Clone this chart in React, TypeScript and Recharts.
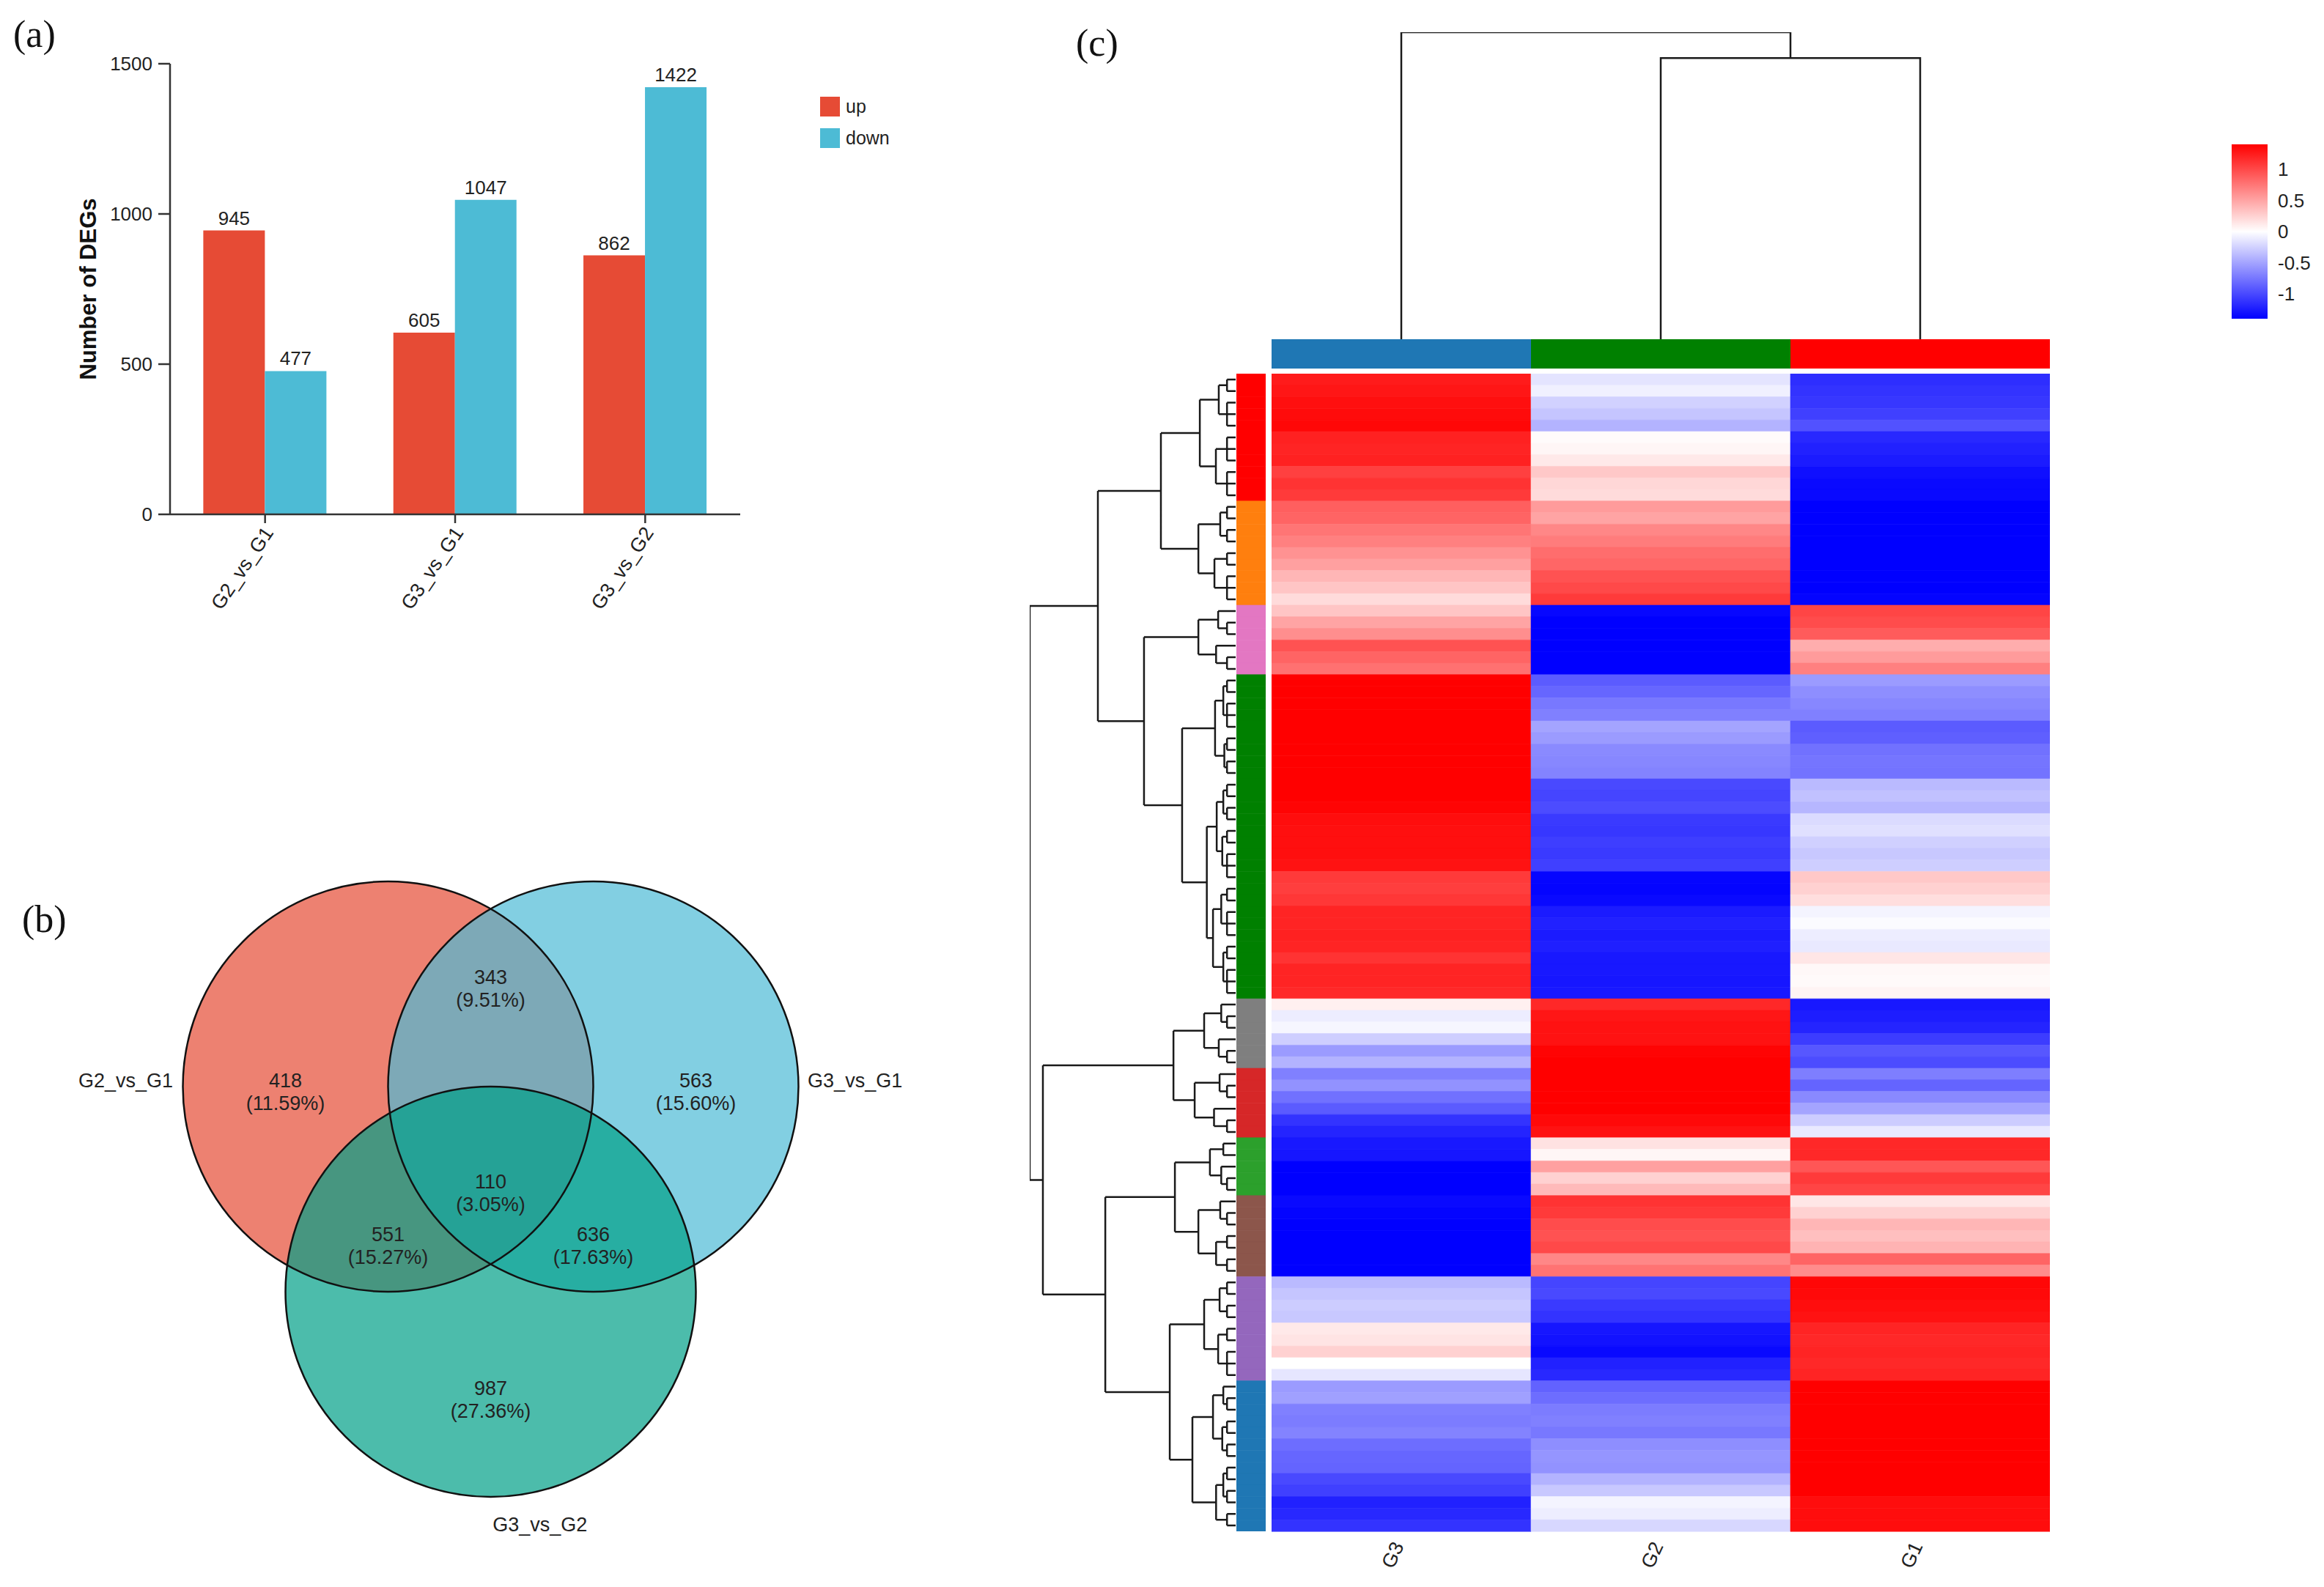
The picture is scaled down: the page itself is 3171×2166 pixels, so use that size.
import React from "react";
import {
  Bar,
  BarChart,
  Cell,
  Label,
  LabelList,
  Legend,
  Line,
  LineChart,
  Scatter,
  ScatterChart,
  XAxis,
  YAxis,
} from "recharts";

const FONT = '"Liberation Sans", Arial, sans-serif';
const SERIF = '"Liberation Serif", "Times New Roman", serif';

// ---- (a) DEG counts ----
const comparisons = ["G2_vs_G1", "G3_vs_G1", "G3_vs_G2"];
const upCounts = [945, 605, 862];
const downCounts = [477, 1047, 1422];
const degTicks = [0, 500, 1000, 1500];
const degSeries = ["up", "down"];

// ---- (b) Venn ----
const vennSets = ["G2_vs_G1", "G3_vs_G1", "G3_vs_G2"];
// order: only A, only B, only C, A&B, A&C, B&C, A&B&C
const regionCounts = [418, 563, 987, 343, 551, 636, 110];
const regionPercents = ["11.59%", "15.60%", "27.36%", "9.51%", "15.27%", "17.63%", "3.05%"];

// ---- (c) heatmap ----
const samples = ["G3", "G2", "G1"];
const sampleColors = ["#1F77B4", "#008000", "#FF0000"];
const clusterSizes = [11, 9, 6, 28, 6, 6, 5, 7, 9, 13];
const clusterColors = [
  "#FF0000", "#FF7F0E", "#E377C2", "#008000", "#7F7F7F",
  "#D62728", "#2CA02C", "#8C564B", "#9467BD", "#1F77B4",
];
const g3Values = [
  1.25, 1.28, 1.32, 1.34, 1.36, 1.22, 1.2, 1.22, 1.05, 1.12, 1.08,
  0.88, 0.85, 0.76, 0.7, 0.6, 0.52, 0.4, 0.32, 0.2,
  0.32, 0.5, 0.62, 0.95, 0.85, 0.78,
  1.4, 1.4, 1.4, 1.4, 1.4, 1.4, 1.4, 1.4, 1.4, 1.4, 1.4, 1.38, 1.33, 1.32,
  1.32, 1.32, 1.3, 1.08, 1.06, 1.1, 1.2, 1.2, 1.22, 1.2, 1.12, 1.2, 1.2, 1.18,
  0.08, -0.1, -0.05, -0.27, -0.55, -0.42,
  -0.7, -0.6, -0.78, -0.9, -1.12, -1.2,
  -1.27, -1.28, -1.4, -1.4, -1.4,
  -1.35, -1.38, -1.4, -1.4, -1.4, -1.4, -1.4,
  -0.38, -0.32, -0.28, -0.3, 0.12, 0.15, 0.25, 0, -0.14,
  -0.55, -0.52, -0.7, -0.72, -0.68, -0.8, -0.84, -0.85, -1, -1.05, -1.22, -1.18, -1.12,
];
const g2Values = [
  -0.15, -0.08, -0.25, -0.32, -0.42, 0.02, 0.05, 0.12, 0.3, 0.22, 0.2,
  0.55, 0.5, 0.66, 0.72, 0.8, 0.84, 0.95, 1, 1.08,
  -1.36, -1.4, -1.4, -1.4, -1.4, -1.4,
  -0.9, -0.84, -0.74, -0.7, -0.5, -0.55, -0.64, -0.66, -0.68, -1, -1.02, -0.98, -1.08, -1.1,
  -1.06, -1.08, -1.05, -1.37, -1.38, -1.35, -1.25, -1.22, -1.25, -1.23, -1.27, -1.27, -1.28, -1.27,
  1.18, 1.28, 1.3, 1.3, 1.38, 1.4,
  1.4, 1.4, 1.4, 1.4, 1.35, 1.3,
  0.16, 0.05, 0.52, 0.25, 0.38,
  1.12, 1.08, 0.98, 0.95, 1, 0.66, 0.77,
  -1.02, -1, -1.08, -1.12, -1.28, -1.3, -1.35, -1.22, -1.18,
  -0.86, -0.8, -0.72, -0.7, -0.74, -0.62, -0.58, -0.6, -0.42, -0.3, -0.06, -0.1, -0.22,
];
const g1Values = [
  -1.15, -1.12, -1.1, -1.05, -0.95, -1.18, -1.22, -1.25, -1.32, -1.35, -1.35,
  -1.4, -1.4, -1.4, -1.4, -1.4, -1.4, -1.4, -1.4, -1.38,
  1.02, 0.98, 0.9, 0.45, 0.55, 0.7,
  -0.55, -0.62, -0.66, -0.7, -0.9, -0.88, -0.78, -0.76, -0.77, -0.38, -0.34, -0.4, -0.2, -0.17,
  -0.26, -0.3, -0.27, 0.3, 0.25, 0.18, -0.06, -0.02, -0.1, -0.12, 0.14, 0.04, 0.03, 0.06,
  -1.27, -1.24, -1.2, -1.07, -0.92, -0.98,
  -0.71, -0.85, -0.65, -0.5, -0.28, -0.12,
  1.18, 1.18, 0.93, 1.08, 1.02,
  0.14, 0.25, 0.4, 0.35, 0.42, 0.85, 0.63,
  1.36, 1.35, 1.33, 1.3, 1.2, 1.18, 1.2, 1.18, 1.2,
  1.4, 1.4, 1.4, 1.4, 1.4, 1.4, 1.4, 1.4, 1.4, 1.4, 1.33, 1.33, 1.33,
];
const scaleTicks = [-1, -0.5, 0, 0.5, 1];
const SCALE_MAX = 1.4;

// row dendrogram: numbers are runs of leaves, objects are merges at height h
const redTree = { h: 1.74, c: [{ h: 0.82, c: [2, 3] }, { h: 0.96, c: [3, 3] }] };
const orangeTree = { h: 1.81, c: [{ h: 0.75, c: [2, 2] }, { h: 1.03, c: [2, 3] }] };
const pinkTree = { h: 1.81, c: [{ h: 0.85, c: [1, 2] }, { h: 0.95, c: [1, 2] }] };
const greenTree = {
  h: 2.6,
  c: [
    { h: 1.0, c: [{ h: 0.6, c: [2, 3] }, { h: 0.55, c: [2, 2] }] },
    {
      h: 1.4,
      c: [
        { h: 0.92, c: [{ h: 0.6, c: [2, 2] }, { h: 0.65, c: [2, 3] }] },
        { h: 1.1, c: [{ h: 0.7, c: [2, 3] }, { h: 0.6, c: [2, 3] }] },
      ],
    },
  ],
};
const grayTree = { h: 1.53, c: [{ h: 0.7, c: [1, 2] }, { h: 0.82, c: [1, 2] }] };
const darkRedTree = { h: 1.99, c: [{ h: 0.78, c: [1, 2] }, { h: 1.05, c: [1, 2] }] };
const green2Tree = { h: 1.25, c: [{ h: 0.6, c: [1, 1] }, { h: 0.7, c: [1, 2] }] };
const brownTree = { h: 1.81, c: [{ h: 0.75, c: [1, 2] }, { h: 0.95, c: [2, 2] }] };
const purpleTree = { h: 1.53, c: [{ h: 0.78, c: [2, 2] }, { h: 0.85, c: [2, 3] }] };
const blueTree = {
  h: 2.1,
  c: [
    { h: 1.1, c: [{ h: 0.6, c: [1, 2] }, { h: 0.65, c: [2, 2] }] },
    { h: 0.95, c: [{ h: 0.6, c: [2, 2] }, 2] },
  ],
};
const rowTree = {
  h: 10,
  c: [
    {
      h: 6.69,
      c: [
        { h: 3.63, c: [redTree, orangeTree] },
        { h: 4.45, c: [pinkTree, greenTree] },
      ],
    },
    {
      h: 9.36,
      c: [
        { h: 3.02, c: [grayTree, darkRedTree] },
        {
          h: 6.33,
          c: [
            { h: 2.95, c: [green2Tree, brownTree] },
            { h: 3.2, c: [purpleTree, blueTree] },
          ],
        },
      ],
    },
  ],
};
// column dendrogram: numbers are sample indices
const colTree = { h: 10, c: [0, { h: 9.16, c: [1, 2] }] };

// ---- helpers ----
const COMB_H = 0.42;
const HEAT_W = 1062;

function heatColor(v: number) {
  const t = Math.min(Math.abs(v) / SCALE_MAX, 1);
  const c = Math.round(255 * (1 - t));
  return v >= 0 ? `rgb(255,${c},${c})` : `rgb(${c},${c},255)`;
}

function rowSegments(tree: any) {
  const pts: { h: number; y: number | null }[] = [];
  let next = 0;
  const seg = (list: { h: number; y: number }[]) => {
    list.forEach((p) => pts.push(p));
    pts.push({ h: 0, y: null });
  };
  const walk = (n: any): { y: number; h: number } => {
    if (typeof n === "number") {
      const ys = Array.from({ length: n }, (_, k) => next + k + 0.5);
      next += n;
      if (n === 1) return { y: ys[0], h: 0 };
      ys.forEach((y) => seg([{ h: 0, y }, { h: COMB_H, y }]));
      seg([{ h: COMB_H, y: ys[0] }, { h: COMB_H, y: ys[n - 1] }]);
      return { y: (ys[0] + ys[n - 1]) / 2, h: COMB_H };
    }
    const kids = n.c.map(walk);
    kids.forEach((k: any) => seg([{ h: k.h, y: k.y }, { h: n.h, y: k.y }]));
    seg([{ h: n.h, y: kids[0].y }, { h: n.h, y: kids[kids.length - 1].y }]);
    return { y: (kids[0].y + kids[kids.length - 1].y) / 2, h: n.h };
  };
  walk(tree);
  return pts;
}

function colSegments(tree: any) {
  const pts: { x: number; h: number | null }[] = [];
  const walk = (n: any): { x: number; h: number } => {
    if (typeof n === "number") return { x: n + 0.5, h: 0 };
    const kids = n.c.map(walk);
    const a = kids[0];
    const b = kids[kids.length - 1];
    pts.push({ x: a.x, h: a.h }, { x: a.x, h: n.h }, { x: b.x, h: n.h }, { x: b.x, h: b.h }, { x: 0, h: null });
    return { x: (a.x + b.x) / 2, h: n.h };
  };
  walk(tree);
  return pts;
}

const degData = comparisons.map((name, i) => ({ name, up: upCounts[i], down: downCounts[i] }));

const rowCount = clusterSizes.reduce((a, b) => a + b, 0);
const rowCluster = clusterSizes.flatMap((n, ci) => Array(n).fill(ci));
const sampleValues = [g3Values, g2Values, g1Values];
const heatRows = g3Values.map((_, i) => {
  const r: any = { row: i, strip: 1 };
  samples.forEach((s) => (r[`span_${s}`] = 1));
  return r;
});
const annotRow = [Object.fromEntries(samples.map((s) => [`span_${s}`, 1]))];
const rowDendro = rowSegments(rowTree);
const colDendro = colSegments(colTree);
const scaleData = [{ name: "z", range: [-SCALE_MAX, SCALE_MAX] }];

// venn layout in circle-radius units (origin between the three centres)
const VENN_W = 1300;
const VENN_H = 1000;
const VENN_ORIGIN = { x: 669.5, y: 473 };
const VENN_R = 280;
const X_MIN = -VENN_ORIGIN.x / VENN_R;
const X_MAX = (VENN_W - VENN_ORIGIN.x) / VENN_R;
const Y_MAX = VENN_ORIGIN.y / VENN_R;
const Y_MIN = -(VENN_H - VENN_ORIGIN.y) / VENN_R;
const circleCenters = [[-0.5, 0.5], [0.5, 0.5], [0, -0.5]];
const vennColors = ["#E64B35", "#4DBBD5", "#00A087"];
const regionAnchors = [[-1.0, 0.475], [1.0, 0.475], [0, -1.025], [0, 0.98], [-0.5, -0.275], [0.5, -0.275], [0, -0.018]];
const setLabelAnchors = [
  { x: -1.548, y: 0.529, anchor: "end" },
  { x: 1.545, y: 0.529, anchor: "start" },
  { x: 0.24, y: -1.636, anchor: "middle" },
];
const vennCircles = vennSets.map((name, i) => ({ name, x: circleCenters[i][0], y: circleCenters[i][1], color: vennColors[i] }));
const vennRegions = regionCounts.map((count, i) => ({ count, pct: regionPercents[i], x: regionAnchors[i][0], y: regionAnchors[i][1] }));
const vennLabels = vennSets.map((name, i) => ({ name, ...setLabelAnchors[i] }));

// ---- pieces ----
function DegTick({ x, y, payload }: any) {
  const ax = x + 5;
  const ay = y + 6;
  return (
    <text x={ax} y={ay} transform={`rotate(-56 ${ax} ${ay})`} textAnchor="end" dominantBaseline="central" fontSize={27} fill="#222" fontFamily={FONT}>
      {payload.value}
    </text>
  );
}

function DegLegend({ payload }: any) {
  const items = [...(payload || [])].sort((a: any, b: any) => degSeries.indexOf(a.value) - degSeries.indexOf(b.value));
  return (
    <div style={{ fontFamily: FONT }}>
      {items.map((p: any) => (
        <div key={p.value} style={{ display: "flex", alignItems: "center", height: 43 }}>
          <span style={{ width: 27, height: 27, background: p.color, marginRight: 8, display: "inline-block" }} />
          <span style={{ fontSize: 25, color: "#222" }}>{p.value}</span>
        </div>
      ))}
    </div>
  );
}

function DegChart() {
  return (
    <BarChart width={1240} height={900} data={degData} margin={{ top: 87, right: 230, left: 0, bottom: 0 }} barCategoryGap="17.5%" barGap={0}>
      <XAxis
        dataKey="name"
        interval={0}
        tick={<DegTick />}
        tickSize={12}
        height={198}
        axisLine={{ stroke: "#333", strokeWidth: 2.5 }}
        tickLine={{ stroke: "#333", strokeWidth: 2.5 }}
      />
      <YAxis
        width={232}
        domain={[0, 1500]}
        ticks={degTicks}
        tickSize={16}
        tickMargin={8}
        tick={{ fontSize: 26, fill: "#222", fontFamily: FONT }}
        axisLine={{ stroke: "#333", strokeWidth: 2.5 }}
        tickLine={{ stroke: "#333", strokeWidth: 2.5 }}
      >
        <Label value="Number of DEGs" angle={-90} position="center" dx={4} style={{ fontSize: 31, fontWeight: 700, fill: "#111", fontFamily: FONT }} />
      </YAxis>
      <Legend layout="vertical" align="center" verticalAlign="middle" wrapperStyle={{ left: 1119, top: 124, width: 160 }} content={<DegLegend />} />
      {degSeries.map((key, i) => (
        <Bar key={key} dataKey={key} fill={i === 0 ? "#E64B35" : "#4DBBD5"} isAnimationActive={false}>
          <LabelList dataKey={key} position="top" offset={8} style={{ fontSize: 26, fill: "#222", fontFamily: FONT }} />
        </Bar>
      ))}
    </BarChart>
  );
}

const CircleFill = (p: any) => <circle cx={p.cx} cy={p.cy} r={VENN_R} fill={p.payload.color} fillOpacity={0.7} />;
const CircleEdge = (p: any) => <circle cx={p.cx} cy={p.cy} r={VENN_R} fill="none" stroke="#111" strokeWidth={2.5} />;
const RegionText = (p: any) => (
  <g fontFamily={FONT} fontSize={27} fill="#222" textAnchor="middle">
    <text x={p.cx} y={p.cy - 15} dominantBaseline="central">{p.payload.count}</text>
    <text x={p.cx} y={p.cy + 16} dominantBaseline="central">({p.payload.pct})</text>
  </g>
);
const SetText = (p: any) => (
  <text x={p.cx} y={p.cy} textAnchor={p.payload.anchor} dominantBaseline="central" fontFamily={FONT} fontSize={27} fill="#222">
    {p.payload.name}
  </text>
);

function VennChart() {
  return (
    <ScatterChart width={VENN_W} height={VENN_H} margin={{ top: 0, right: 0, bottom: 0, left: 0 }}>
      <XAxis type="number" dataKey="x" domain={[X_MIN, X_MAX]} allowDataOverflow hide />
      <YAxis type="number" dataKey="y" domain={[Y_MIN, Y_MAX]} allowDataOverflow hide />
      <Scatter data={vennCircles} shape={CircleFill} isAnimationActive={false} />
      <Scatter data={vennCircles} shape={CircleEdge} isAnimationActive={false} />
      <Scatter data={vennRegions} shape={RegionText} isAnimationActive={false} />
      <Scatter data={vennLabels} shape={SetText} isAnimationActive={false} />
    </ScatterChart>
  );
}

function SampleTick({ x, y, payload }: any) {
  const label = samples[Math.round(payload.value - 0.5)];
  const ax = x - 4;
  const ay = y + 16;
  return (
    <text x={ax} y={ay} transform={`rotate(-65 ${ax} ${ay})`} textAnchor="end" dominantBaseline="central" fontSize={27} fill="#222" fontFamily={FONT}>
      {label}
    </text>
  );
}

function HeatChart() {
  return (
    <BarChart layout="vertical" width={HEAT_W} height={1660} data={heatRows} margin={{ top: 0, right: 0, bottom: 0, left: 0 }} barCategoryGap={0}>
      <YAxis type="category" dataKey="row" hide />
      <XAxis
        type="number"
        domain={[0, samples.length]}
        ticks={samples.map((_, i) => i + 0.5)}
        axisLine={false}
        tickLine={false}
        tickSize={0}
        tickMargin={0}
        height={80}
        tick={<SampleTick />}
      />
      {samples.map((s, si) => (
        <Bar key={s} dataKey={`span_${s}`} stackId="cells" isAnimationActive={false}>
          {heatRows.map((_, i) => {
            const c = heatColor(sampleValues[si][i]);
            return <Cell key={i} fill={c} stroke={c} strokeWidth={0.6} />;
          })}
        </Bar>
      ))}
    </BarChart>
  );
}

function StripChart() {
  return (
    <BarChart layout="vertical" width={40} height={1580} data={heatRows} margin={{ top: 0, right: 0, bottom: 0, left: 0 }} barCategoryGap={0}>
      <YAxis type="category" dataKey="row" hide />
      <XAxis type="number" domain={[0, 1]} hide />
      <Bar dataKey="strip" isAnimationActive={false}>
        {heatRows.map((_, i) => {
          const c = clusterColors[rowCluster[i]];
          return <Cell key={i} fill={c} stroke={c} strokeWidth={0.6} />;
        })}
      </Bar>
    </BarChart>
  );
}

function RowDendrogram() {
  return (
    <LineChart width={286} height={1580} data={rowDendro} margin={{ top: 0, right: 0, bottom: 0, left: 5 }}>
      <XAxis type="number" dataKey="h" domain={[0, 10]} reversed allowDataOverflow hide />
      <YAxis type="number" domain={[0, rowCount]} reversed allowDataOverflow hide />
      <Line dataKey="y" stroke="#1a1a1a" strokeWidth={2.5} dot={false} isAnimationActive={false} connectNulls={false} />
    </LineChart>
  );
}

function ColDendrogram() {
  return (
    <LineChart width={HEAT_W} height={423} data={colDendro} margin={{ top: 4, right: 0, bottom: 0, left: 0 }}>
      <XAxis type="number" dataKey="x" domain={[0, samples.length]} allowDataOverflow hide />
      <YAxis type="number" domain={[0, 10]} allowDataOverflow hide />
      <Line dataKey="h" stroke="#1a1a1a" strokeWidth={2.5} dot={false} isAnimationActive={false} connectNulls={false} />
    </LineChart>
  );
}

function AnnotationBar() {
  return (
    <BarChart layout="vertical" width={HEAT_W} height={40} data={annotRow} margin={{ top: 0, right: 0, bottom: 0, left: 0 }} barCategoryGap={0}>
      <YAxis type="category" hide />
      <XAxis type="number" domain={[0, samples.length]} hide />
      {samples.map((s, i) => (
        <Bar key={s} dataKey={`span_${s}`} stackId="a" fill={sampleColors[i]} isAnimationActive={false} />
      ))}
    </BarChart>
  );
}

function ScaleLegend() {
  return (
    <BarChart width={171} height={280} data={scaleData} margin={{ top: 17, right: 0, bottom: 25, left: 45 }} barCategoryGap={0}>
      <defs>
        <linearGradient id="zgrad" x1="0" y1="0" x2="0" y2="1">
          <stop offset="0%" stopColor="#FF0000" />
          <stop offset="50%" stopColor="#FFFFFF" />
          <stop offset="100%" stopColor="#0000FF" />
        </linearGradient>
      </defs>
      <XAxis dataKey="name" hide />
      <YAxis
        orientation="right"
        width={77}
        domain={[-SCALE_MAX, SCALE_MAX]}
        ticks={scaleTicks}
        axisLine={false}
        tickLine={false}
        tickSize={0}
        tickMargin={14}
        tick={{ fontSize: 26, fill: "#222", fontFamily: FONT }}
      />
      <Bar dataKey="range" fill="url(#zgrad)" isAnimationActive={false} />
    </BarChart>
  );
}

const abs = (left: number, top: number): React.CSSProperties => ({ position: "absolute", left, top });

export default function App() {
  return (
    <div style={{ position: "absolute", left: 0, top: 0, width: 3171, height: 2166, background: "#fff", fontFamily: FONT, overflow: "hidden" }}>
      <svg width={3171} height={2166} style={abs(0, 0)}>
        <g fontFamily={SERIF} fontSize={52} fill="#111">
          <text x={18} y={64}>(a)</text>
          <text x={30} y={1272}>(b)</text>
          <text x={1468} y={76}>(c)</text>
        </g>
      </svg>
      <div style={abs(0, 0)}><DegChart /></div>
      <div style={abs(0, 1150)}><VennChart /></div>
      <div style={abs(1735, 40)}><ColDendrogram /></div>
      <div style={abs(1735, 463)}><AnnotationBar /></div>
      <div style={abs(1400, 510)}><RowDendrogram /></div>
      <div style={abs(1687, 510)}><StripChart /></div>
      <div style={abs(1735, 510)}><HeatChart /></div>
      <div style={abs(3000, 180)}><ScaleLegend /></div>
    </div>
  );
}
